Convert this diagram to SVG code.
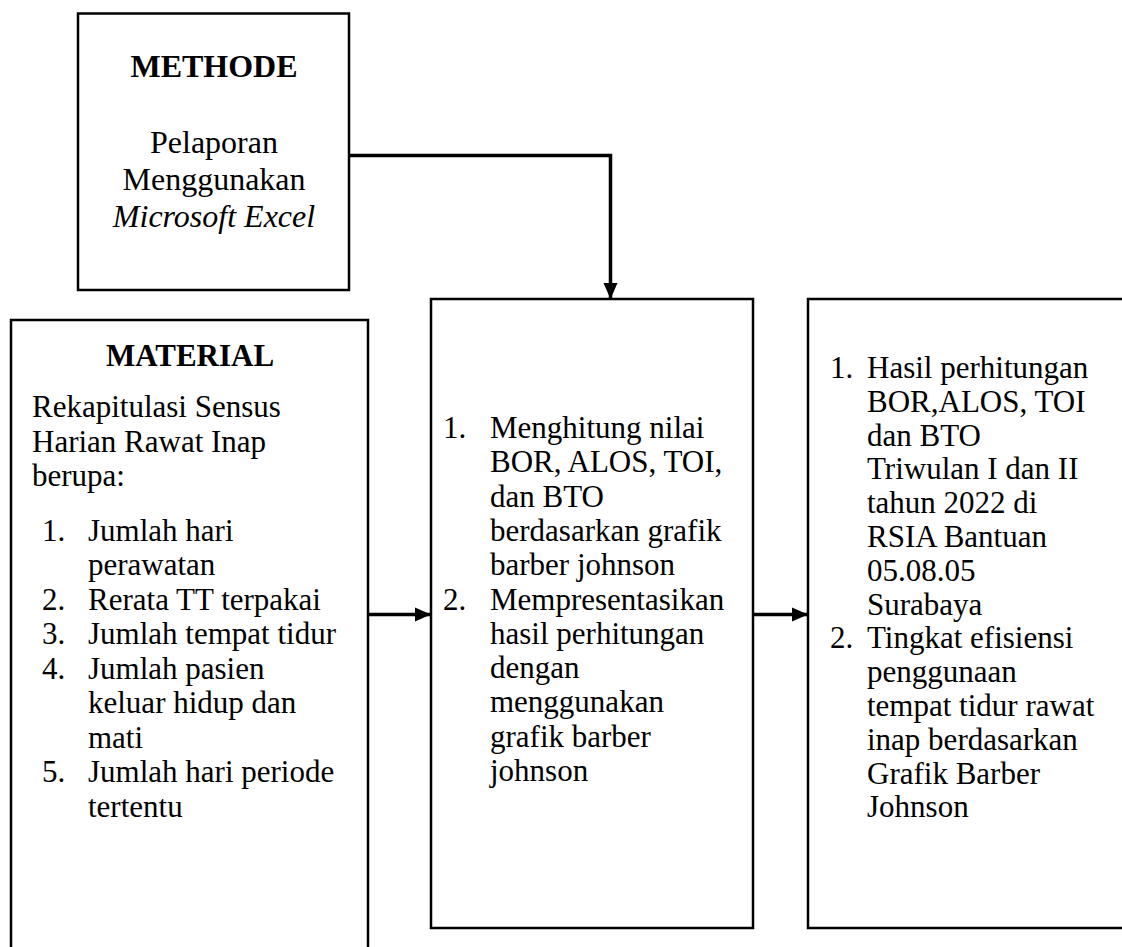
<svg xmlns="http://www.w3.org/2000/svg" width="1122" height="947" viewBox="0 0 1122 947">
<style>
.box{fill:#fff;stroke:#000;stroke-width:2.5}
.t{font-family:"Liberation Serif","Times New Roman",serif;font-size:31px;fill:#000}
.m{font-family:"Liberation Serif","Times New Roman",serif;font-size:32px;fill:#000}
.b{font-weight:bold}
.i{font-style:italic}
.c{text-anchor:middle}
.conn{fill:none;stroke:#000;stroke-width:3.5}
</style>
<defs>
<marker id="ah" markerUnits="userSpaceOnUse" markerWidth="16" markerHeight="16" viewBox="0 0 16 16" refX="16" refY="8" orient="auto">
<path d="M0,1 L16,8 L0,15 Z" fill="#000"/>
</marker>
</defs>
<rect width="1122" height="947" fill="#fff"/>
<g id="methode">
<rect class="box" x="78" y="13.5" width="271" height="276.5"/>
<text class="m b c" x="214" y="77">METHODE</text>
<text class="m c" x="214" y="153">Pelaporan</text>
<text class="m c" x="214" y="190">Menggunakan</text>
<text class="m i c" x="214" y="227">Microsoft Excel</text>
</g>
<g id="material">
<rect class="box" x="11" y="320" width="357" height="650"/>
<text class="t b c" x="190" y="366">MATERIAL</text>
<text class="t" x="32" y="417">Rekapitulasi Sensus</text>
<text class="t" x="32" y="452">Harian Rawat Inap</text>
<text class="t" x="32" y="486">berupa:</text>
<text class="t" x="42" y="541">1.</text><text class="t" x="88" y="541">Jumlah hari</text>
<text class="t" x="88" y="575">perawatan</text>
<text class="t" x="42" y="610">2.</text><text class="t" x="88" y="610">Rerata TT terpakai</text>
<text class="t" x="42" y="644">3.</text><text class="t" x="88" y="644">Jumlah tempat tidur</text>
<text class="t" x="42" y="679">4.</text><text class="t" x="88" y="679">Jumlah pasien</text>
<text class="t" x="88" y="713">keluar hidup dan</text>
<text class="t" x="88" y="748">mati</text>
<text class="t" x="42" y="782">5.</text><text class="t" x="88" y="782">Jumlah hari periode</text>
<text class="t" x="88" y="817">tertentu</text>
</g>
<g id="proses">
<rect class="box" x="431" y="299" width="322" height="629"/>
<text class="t" x="443" y="438">1.</text><text class="t" x="490" y="438">Menghitung nilai</text>
<text class="t" x="490" y="472">BOR, ALOS, TOI,</text>
<text class="t" x="490" y="507">dan BTO</text>
<text class="t" x="490" y="541">berdasarkan grafik</text>
<text class="t" x="490" y="575">barber johnson</text>
<text class="t" x="443" y="610">2.</text><text class="t" x="490" y="610">Mempresentasikan</text>
<text class="t" x="490" y="644">hasil perhitungan</text>
<text class="t" x="490" y="678">dengan</text>
<text class="t" x="490" y="712">menggunakan</text>
<text class="t" x="490" y="747">grafik barber</text>
<text class="t" x="490" y="781">johnson</text>
</g>
<g id="hasil">
<rect class="box" x="808" y="299" width="330" height="629"/>
<text class="t" x="830" y="378">1.</text><text class="t" x="867" y="378">Hasil perhitungan</text>
<text class="t" x="867" y="412">BOR,ALOS, TOI</text>
<text class="t" x="867" y="446">dan BTO</text>
<text class="t" x="867" y="479">Triwulan I dan II</text>
<text class="t" x="867" y="513">tahun 2022 di</text>
<text class="t" x="867" y="547">RSIA Bantuan</text>
<text class="t" x="867" y="581">05.08.05</text>
<text class="t" x="867" y="615">Surabaya</text>
<text class="t" x="830" y="648">2.</text><text class="t" x="867" y="648">Tingkat efisiensi</text>
<text class="t" x="867" y="682">penggunaan</text>
<text class="t" x="867" y="716">tempat tidur rawat</text>
<text class="t" x="867" y="750">inap berdasarkan</text>
<text class="t" x="867" y="784">Grafik Barber</text>
<text class="t" x="867" y="817">Johnson</text>
</g>
<g id="connectors">
<path class="conn" d="M349,155.5 H610.5 V299" marker-end="url(#ah)"/>
<path class="conn" d="M368,614.5 H431" marker-end="url(#ah)"/>
<path class="conn" d="M753,614.5 H808" marker-end="url(#ah)"/>
</g>
</svg>
